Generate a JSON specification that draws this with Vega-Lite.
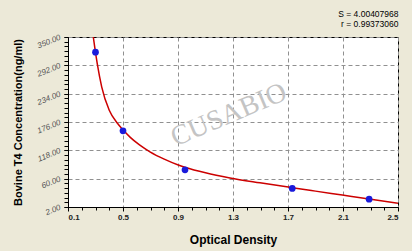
{
  "$schema": "https://vega.github.io/schema/vega-lite/v6.json",
  "width": 330,
  "height": 170,
  "autosize": {"type": "none"},
  "padding": {"left": 68, "top": 37, "right": 14, "bottom": 44},
  "background": "#ECE9D8",
  "config": {
    "view": {"fill": "white", "stroke": "black", "strokeWidth": 1},
    "font": "Liberation Sans"
  },
  "title": {
    "text": "S = 4.00407968",
    "subtitle": "r = 0.99373060",
    "anchor": "end",
    "fontSize": 8.5,
    "fontWeight": "normal",
    "color": "black",
    "subtitleFontSize": 8.5,
    "subtitleColor": "black",
    "subtitlePadding": 1,
    "offset": 5,
    "font": "Liberation Sans",
    "subtitleFont": "Liberation Sans"
  },
  "datasets": {
    "curve": [
      {"od": 0.284, "conc": 350},
      {"od": 0.30, "conc": 318},
      {"od": 0.313, "conc": 295},
      {"od": 0.345, "conc": 248},
      {"od": 0.40, "conc": 200},
      {"od": 0.458, "conc": 174},
      {"od": 0.50, "conc": 160},
      {"od": 0.551, "conc": 145},
      {"od": 0.62, "conc": 129},
      {"od": 0.696, "conc": 115},
      {"od": 0.80, "conc": 100},
      {"od": 0.902, "conc": 88},
      {"od": 0.95, "conc": 83.5},
      {"od": 1.10, "conc": 72},
      {"od": 1.278, "conc": 61.5},
      {"od": 1.496, "conc": 51.5},
      {"od": 1.731, "conc": 41.5},
      {"od": 1.90, "conc": 34.5},
      {"od": 2.095, "conc": 26.5},
      {"od": 2.29, "conc": 18.5},
      {"od": 2.50, "conc": 9.5}
    ],
    "points": [
      {"od": 0.30, "conc": 319},
      {"od": 0.50, "conc": 158},
      {"od": 0.951, "conc": 78},
      {"od": 1.731, "conc": 40},
      {"od": 2.29, "conc": 18}
    ]
  },
  "layer": [
    {
      "data": {"name": "curve"},
      "mark": {"type": "line", "color": "#CC0000", "strokeWidth": 1.5, "interpolate": "monotone", "clip": true},
      "encoding": {
        "x": {
          "field": "od", "type": "quantitative",
          "scale": {"domain": [0.1, 2.5], "nice": false, "zero": false},
          "axis": {
            "orient": "bottom",
            "values": [0.1, 0.5, 0.9, 1.3, 1.7, 2.1, 2.5],
            "format": ".1f",
            "title": "Optical  Density",
            "titleFont": "Liberation Sans",
            "titleFontSize": 12,
            "titleFontWeight": "bold",
            "titleColor": "black",
            "titleBaseline": "middle",
            "titleY": 32,
            "labelFont": "Liberation Sans",
            "labelFontSize": 8,
            "labelFontWeight": "bold",
            "labelColor": "#222222",
            "labelPadding": 2,
            "tickColor": "black",
            "tickSize": 4,
            "domainColor": "black",
            "grid": true,
            "gridColor": "#909090",
            "gridDash": [4, 3],
            "gridWidth": 1
          }
        },
        "y": {
          "field": "conc", "type": "quantitative",
          "scale": {"domain": [2, 350], "nice": false, "zero": false},
          "axis": {
            "orient": "left",
            "values": [2, 60, 118, 176, 234, 292, 350],
            "format": ".2f",
            "title": "Bovine T4 Concentration(ng/ml)",
            "titleFont": "Liberation Sans",
            "titleFontSize": 11,
            "titleFontWeight": "bold",
            "titleColor": "black",
            "titleX": -50,
            "titleY": 85,
            "titleAngle": -90,
            "titleBaseline": "middle",
            "titleAlign": "center",
            "labelFont": "Liberation Sans",
            "labelFontSize": 8,
            "labelFontStyle": "italic",
            "labelColor": "#555555",
            "labelAngle": -22,
            "labelAlign": "right",
            "labelBaseline": "middle",
            "labelPadding": 4,
            "tickColor": "black",
            "tickSize": 4,
            "domainColor": "black",
            "grid": true,
            "gridColor": "#909090",
            "gridDash": [4, 3],
            "gridWidth": 1
          }
        }
      }
    },
    {
      "data": {"values": [{"label": "CUSABIO"}]},
      "mark": {"type": "text", "font": "Liberation Serif", "fontSize": 28, "angle": -23, "color": "#c4c4c4", "align": "center", "baseline": "middle"},
      "encoding": {
        "x": {"datum": 1.27, "type": "quantitative", "axis": null},
        "y": {"datum": 190, "type": "quantitative", "axis": null},
        "text": {"field": "label"}
      }
    },
    {
      "data": {"name": "points"},
      "mark": {"type": "circle", "color": "#1a1adb", "size": 45, "opacity": 1},
      "encoding": {
        "x": {
          "field": "od", "type": "quantitative",
          "axis": {
            "orient": "bottom",
            "values": [0.1, 0.2, 0.3, 0.4, 0.5, 0.6, 0.7, 0.8, 0.9, 1.0, 1.1, 1.2, 1.3, 1.4, 1.5, 1.6, 1.7, 1.8, 1.9, 2.0, 2.1, 2.2, 2.3, 2.4, 2.5],
            "labels": false,
            "title": null,
            "grid": false,
            "domain": false,
            "tickColor": "black",
            "tickSize": 3
          }
        },
        "y": {
          "field": "conc", "type": "quantitative",
          "axis": {
            "orient": "left",
            "values": [2, 11.667, 21.333, 31, 40.667, 50.333, 60, 69.667, 79.333, 89, 98.667, 108.333, 118, 127.667, 137.333, 147, 156.667, 166.333, 176, 185.667, 195.333, 205, 214.667, 224.333, 234, 243.667, 253.333, 263, 272.667, 282.333, 292, 301.667, 311.333, 321, 330.667, 340.333, 350],
            "labels": false,
            "title": null,
            "grid": false,
            "domain": false,
            "tickColor": "black",
            "tickSize": 4
          }
        }
      }
    }
  ],
  "resolve": {"axis": {"x": "independent", "y": "independent"}}
}
